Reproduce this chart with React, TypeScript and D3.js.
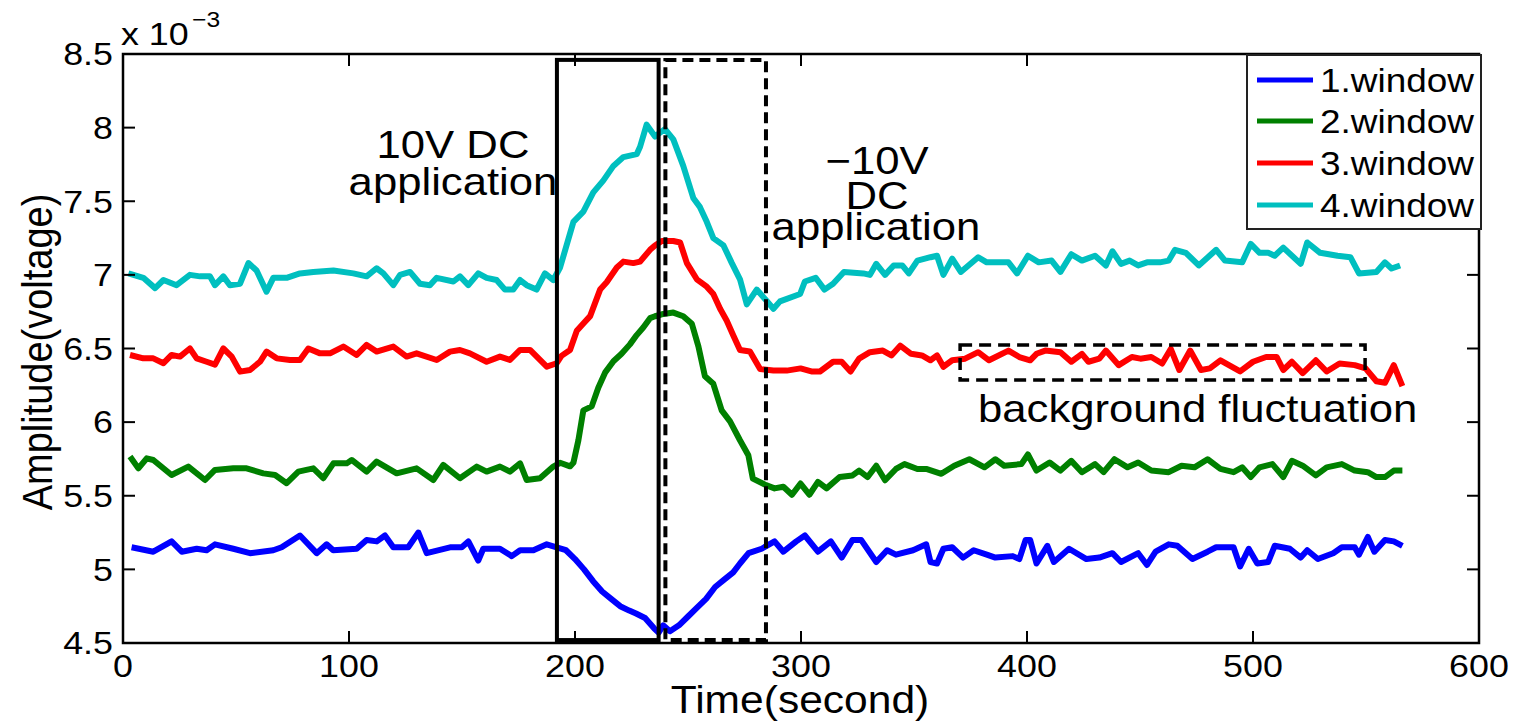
import React from 'react';
import * as d3 from 'd3';

type Pt = [number, number];

const TIME_TICKS = [0, 100, 200, 300, 400, 500, 600];
const AMP_TICKS = [4.5, 5, 5.5, 6, 6.5, 7, 7.5, 8, 8.5];
const SERIES_NAMES = ['1.window', '2.window', '3.window', '4.window'];
const SERIES_COLORS = ['#0000ff', '#008000', '#ff0000', '#00bfbf'];

const window1: Pt[] = [
  [3.8,5.15],[13.4,5.12],[21.5,5.19],[26,5.12],[32.6,5.14],[37,5.13],[40.7,5.17],[48.8,5.14],[56.2,5.11],[66.5,5.13],[70.2,5.15],[78.3,5.23],[85.7,5.11],[90.1,5.17],[93,5.13],[103.4,5.14],[107.8,5.2],[112.3,5.19],[115.9,5.23],[119.6,5.15],[126.2,5.15],[130.7,5.25],[134.4,5.11],[144.7,5.15],[149.9,5.15],[152.8,5.19],[157.2,5.06],[159.4,5.14],[166.8,5.14],[172,5.09],[175.7,5.13],[181.6,5.13],[187.5,5.17],[191.9,5.15],
  [196,5.13],[200,5.07],[204,5.0],[208,4.92],[212,4.85],[216,4.8],[220,4.75],[224,4.72],[227,4.7],[231,4.67],[235,4.6],[237,4.57],[239,4.62],[242,4.58],[246,4.62],[250,4.68],[254,4.74],[258,4.8],[262,4.88],[266,4.93],[270,4.98],[273,5.04],
  [276.8,5.11],[282.6,5.14],[288.3,5.19],[292.2,5.12],[297.9,5.19],[301.7,5.23],[307.5,5.12],[313.2,5.19],[318,5.08],[322.8,5.2],[326.6,5.2],[333.3,5.05],[338.1,5.13],[342,5.1],[349.6,5.13],[355.4,5.17],[357.3,5.05],[360.2,5.04],[363,5.14],[366.9,5.15],[371.7,5.08],[376.4,5.13],[382.2,5.1],[386,5.08],[393.7,5.09],[396.6,5.07],[399.4,5.2],[401.4,5.2],[404.2,5.04],[409,5.16],[411.9,5.05],[418.6,5.14],[426.3,5.07],[432,5.08],[437.8,5.11],[441.6,5.05],[449.2,5.11],[453.1,5.03],[456.9,5.12],[462.7,5.17],[466.5,5.16],[473.2,5.07],[479.9,5.12],[483.7,5.15],[491.4,5.15],[494.3,5.02],[498.1,5.14],[501.9,5.04],[506.7,5.05],[509.6,5.16],[516.3,5.14],[521.1,5.08],[524,5.13],[528.7,5.07],[535.5,5.11],[539.3,5.15],[545,5.15],[546.9,5.1],[550.8,5.22],[553.7,5.12],[558.4,5.2],[562.3,5.19],[566.1,5.16]
];

const window2: Pt[] = [
  [3.1,5.766],[6.8,5.686],[10.5,5.754],[13.4,5.743],[21.5,5.641],[28.9,5.698],[36.3,5.607],[40.7,5.675],[48.8,5.686],[54.7,5.686],[62.1,5.652],[67.3,5.641],[72.4,5.585],[77.6,5.664],[84.2,5.686],[88.6,5.619],[93.1,5.72],[99,5.72],[101.2,5.743],[107.8,5.664],[112.2,5.732],[121.1,5.652],[129.9,5.686],[137.3,5.607],[141.7,5.709],[149.1,5.619],[156.5,5.698],[160.9,5.664],[166.8,5.698],[171.2,5.664],[175.7,5.72],[178.6,5.607],[184.5,5.619],[190.4,5.698],
  [193.4,5.724],[197.8,5.7],[199.3,5.724],[201.5,5.877],[203.7,6.08],[207.4,6.107],[210.3,6.234],[213.3,6.336],[217,6.413],[220.6,6.464],[224.3,6.528],[227.3,6.591],[230.2,6.642],[233.2,6.706],[235.4,6.719],[238.4,6.732],[243.5,6.744],[247.9,6.719],[251.7,6.668],[254.6,6.515],[257.5,6.311],[261.2,6.26],[264.9,6.08],[268.6,6.005],[273,5.877],[276.7,5.775],
  [278.7,5.616],[284.5,5.572],[288.3,5.55],[292.2,5.561],[296,5.507],[299.8,5.583],[303.7,5.507],[307.5,5.594],[311.3,5.55],[317.1,5.627],[322.8,5.638],[325.7,5.671],[329.5,5.627],[333.3,5.704],[337.2,5.605],[342,5.682],[345.8,5.715],[351.5,5.682],[355.4,5.682],[362.1,5.649],[367.8,5.704],[374.5,5.748],[381.2,5.693],[386,5.748],[389.9,5.704],[397.5,5.715],[400.4,5.78],[404.2,5.671],[410,5.726],[414.8,5.671],[419.6,5.737],[424.3,5.66],[430.1,5.715],[433.9,5.66],[438.7,5.748],[444.5,5.693],[449.2,5.726],[455,5.671],[462.7,5.66],[468.4,5.704],[474.1,5.693],[479.9,5.748],[485.6,5.682],[491.4,5.66],[495.2,5.693],[499,5.627],[502.9,5.693],[508.6,5.715],[513.4,5.627],[517.2,5.737],[522,5.704],[527.8,5.638],[532.6,5.693],[539.3,5.715],[545,5.671],[550.8,5.66],[554.6,5.627],[558.4,5.627],[562.3,5.671],[566.1,5.671]
];

const window3: Pt[] = [
  [3.1,6.456],[9,6.433],[13.4,6.433],[17.9,6.4],[21.5,6.456],[25.2,6.445],[29.6,6.5],[32.6,6.433],[37,6.41],[40.7,6.39],[44.4,6.5],[48.1,6.445],[51.8,6.343],[56.2,6.354],[60.6,6.41],[63.5,6.479],[68,6.433],[73.9,6.422],[78.3,6.422],[82,6.5],[87.2,6.467],[91.6,6.467],[97.5,6.513],[103.4,6.456],[107.8,6.524],[112.2,6.479],[119.6,6.513],[125.5,6.445],[129.9,6.467],[138.8,6.422],[144.7,6.479],[149.1,6.49],[153.5,6.467],[160.9,6.41],[166.8,6.445],[171.2,6.422],[175.7,6.49],[180.1,6.49],[187.5,6.377],[191.9,6.4],
  [194,6.45],[197.8,6.49],[200.8,6.62],[203.7,6.67],[206.7,6.72],[211.1,6.9],[214,6.95],[218.5,7.05],[221.4,7.09],[225.8,7.08],[228.8,7.09],[233.2,7.17],[235.4,7.2],[238.4,7.23],[243.5,7.23],[246.5,7.22],[249.5,7.08],[253.9,6.97],[258.3,6.92],[261.2,6.87],[264.2,6.77],[267.1,6.69],[270,6.59],[273,6.49],[277.4,6.48],[281.9,6.36],[287.8,6.35],[293.7,6.35],
  [299.8,6.365],[304.6,6.344],[308.4,6.344],[314.2,6.41],[318,6.41],[321.9,6.344],[325.7,6.431],[330.5,6.475],[336.2,6.486],[340,6.453],[343.9,6.519],[348.7,6.464],[353.5,6.453],[357.3,6.42],[360.2,6.453],[363,6.376],[366.9,6.42],[372.6,6.431],[378.4,6.475],[383.2,6.42],[391.8,6.486],[396.6,6.442],[401.4,6.42],[404.2,6.464],[408.1,6.486],[414.8,6.475],[419.6,6.41],[424.3,6.464],[427.2,6.41],[432,6.431],[434.9,6.486],[440.6,6.387],[446.4,6.442],[450.2,6.431],[455,6.442],[459.8,6.398],[463.6,6.497],[467.4,6.354],[472.2,6.486],[477,6.354],[480.9,6.365],[485.6,6.42],[494.3,6.344],[500,6.41],[505.8,6.442],[510.5,6.442],[513.4,6.354],[517.2,6.41],[522,6.333],[527.8,6.42],[532.6,6.344],[538.3,6.398],[545,6.387],[549.8,6.365],[554.6,6.278],[558.4,6.267],[562.3,6.387],[566.1,6.245]
];

const window4: Pt[] = [
  [2.4,7.01],[9,6.98],[14.2,6.91],[17.9,6.965],[23.7,6.93],[29.6,7.0],[34.1,6.99],[38.5,6.99],[40.7,6.93],[44.4,6.99],[47.3,6.93],[51.8,6.94],[55.5,7.08],[59.1,7.03],[63.5,6.886],[66.5,6.98],[72.4,6.98],[78.3,7.01],[84.2,7.02],[93.1,7.03],[101.9,7.01],[107.8,6.99],[112.2,7.045],[115.2,7.01],[119.6,6.93],[122.6,7.0],[127,7.02],[131.4,6.94],[135.8,6.93],[138.8,6.98],[146.2,6.955],[149.1,6.99],[152.8,6.93],[157.2,7.01],[160.9,6.98],[165.3,6.965],[169,6.9],[172.7,6.9],[175.7,6.965],[178.6,6.93],[183,6.9],[186.7,7.01],[190.4,6.965],
  [193.4,7.05],[199.3,7.36],[203.7,7.43],[208.1,7.56],[212.5,7.64],[217,7.74],[221.4,7.8],[227.3,7.82],[228.8,7.87],[231.7,8.02],[235.4,7.94],[239.8,7.99],[243.5,7.92],[247.9,7.74],[252.4,7.52],[255.3,7.46],[258.3,7.36],[261.2,7.25],[265.7,7.2],[269.4,7.08],[273,6.97],[276,6.8],[280.4,6.9],[283.3,6.85],[287.8,6.77],[290.7,6.82],[299.6,6.87],
  [301.7,6.955],[306.5,6.98],[310.4,6.9],[314.2,6.94],[319,7.02],[327.6,7.01],[330.5,7.0],[333.3,7.075],[337.2,7.0],[341,7.064],[344.8,7.064],[347.7,7.01],[351.5,7.097],[357.3,7.12],[360.2,7.13],[363,7.0],[366.9,7.11],[370.7,7.02],[378.4,7.12],[382.2,7.085],[391.8,7.085],[395.6,7.01],[400.4,7.13],[405.2,7.085],[410.9,7.097],[414.8,7.02],[419.6,7.14],[424.3,7.097],[430.1,7.13],[434.9,7.064],[437.8,7.16],[441.6,7.075],[445.4,7.097],[449.2,7.064],[453.1,7.085],[458.8,7.085],[462.7,7.097],[465.5,7.17],[470.3,7.15],[476,7.064],[483.7,7.17],[487.6,7.097],[495.2,7.085],[499,7.21],[502.9,7.15],[506.7,7.15],[509.6,7.13],[513.4,7.185],[521.1,7.075],[524,7.22],[529.7,7.15],[537.4,7.13],[543.1,7.12],[546.9,7.01],[554.6,7.02],[558.4,7.085],[561.3,7.043],[565.1,7.064]
];

// annotation boxes in data units: [t0, t1, v0, v1]
const POS_DC_BOX = [192, 237, 4.52, 8.46];
const NEG_DC_BOX = [240, 284.5, 4.52, 8.46];
const BG_BOX = [370.4, 549.6, 6.286, 6.524];

const FONT = "'Liberation Sans', Arial, Helvetica, sans-serif";
const SX = 1.12;

function Txt(props: { x: number; y: number; size: number; anchor?: string; rotate?: boolean; baseline?: string; children: React.ReactNode }) {
  const { x, y, size, anchor = 'start', rotate = false, baseline, children } = props;
  const tf = `translate(${x},${y}) scale(${SX},1)` + (rotate ? ' rotate(-90)' : '');
  return (
    <text transform={tf} fontSize={size} textAnchor={anchor} dominantBaseline={baseline} fontFamily={FONT} fill="#000">
      {children}
    </text>
  );
}

export default function App() {
  const W = 1515, H = 721;
  const L = 123, R = 1479, TOP = 54, B = 643;
  const x = d3.scaleLinear().domain([0, 600]).range([L, R]);
  const y = d3.scaleLinear().domain([4.5, 8.5]).range([B, TOP]);
  const line = d3.line<Pt>().x(d => x(d[0])).y(d => y(d[1]));
  const series = [window1, window2, window3, window4];
  const tickLen = 12;

  const rectOf = (b: number[]) => ({ x: x(b[0]), y: y(b[3]), w: x(b[1]) - x(b[0]), h: y(b[2]) - y(b[3]) });
  const pos = rectOf(POS_DC_BOX), neg = rectOf(NEG_DC_BOX), bg = rectOf(BG_BOX);

  const legX = 1247, legY = 55, legW = 234, legH = 174;
  const legRows = [80, 121, 163, 205];

  return (
    <svg width={W} height={H} style={{ position: 'absolute', left: 0, top: 0, background: '#fff' }}>
      <rect x={0} y={0} width={W} height={H} fill="#fff" />
      {series.map((s, i) => (
        <path key={i} d={line(s) || ''} fill="none" stroke={SERIES_COLORS[i]} strokeWidth={6} strokeLinejoin="round" />
      ))}
      <rect x={pos.x} y={pos.y} width={pos.w} height={pos.h} fill="none" stroke="#000" strokeWidth={4} />
      <rect x={neg.x} y={neg.y} width={neg.w} height={neg.h} fill="none" stroke="#000" strokeWidth={4} strokeDasharray="11 6" />
      <rect x={bg.x} y={bg.y} width={bg.w} height={bg.h} fill="none" stroke="#000" strokeWidth={3.5} strokeDasharray="12 7" />

      {/* axes box */}
      <rect x={L} y={TOP} width={R - L} height={B - TOP} fill="none" stroke="#000" strokeWidth={2.5} />
      {TIME_TICKS.map(t => (
        <g key={'xt' + t}>
          <line x1={x(t)} x2={x(t)} y1={B} y2={B - tickLen} stroke="#000" strokeWidth={2} />
          <line x1={x(t)} x2={x(t)} y1={TOP} y2={TOP + tickLen} stroke="#000" strokeWidth={2} />
          <Txt x={x(t)} y={677} size={32} anchor="middle">{String(t)}</Txt>
        </g>
      ))}
      {AMP_TICKS.map(v => (
        <g key={'yt' + v}>
          <line x1={L} x2={L + tickLen} y1={y(v)} y2={y(v)} stroke="#000" strokeWidth={2} />
          <line x1={R} x2={R - tickLen} y1={y(v)} y2={y(v)} stroke="#000" strokeWidth={2} />
          <Txt x={113} y={y(v)} size={32} anchor="end" baseline="central">{String(v)}</Txt>
        </g>
      ))}
      <Txt x={121} y={45} size={32}>x 10</Txt>
      <Txt x={192} y={27} size={22}>−3</Txt>

      <Txt x={52} y={352} size={38} anchor="middle" rotate>Amplitude(voltage)</Txt>
      <Txt x={800} y={713} size={38} anchor="middle">Time(second)</Txt>

      <Txt x={453} y={158} size={39} anchor="middle">10V DC</Txt>
      <Txt x={453} y={195} size={39} anchor="middle">application</Txt>
      <Txt x={877} y={174} size={39} anchor="middle">−10V</Txt>
      <Txt x={877} y={209} size={39} anchor="middle">DC</Txt>
      <Txt x={876} y={240} size={39} anchor="middle">application</Txt>
      <Txt x={978} y={422} size={39}>background fluctuation</Txt>

      {/* legend */}
      <rect x={legX} y={legY} width={legW} height={legH} fill="#fff" stroke="#222" strokeWidth={2} />
      {SERIES_NAMES.map((n, i) => (
        <g key={n}>
          <line x1={1257} x2={1313} y1={legRows[i]} y2={legRows[i]} stroke={SERIES_COLORS[i]} strokeWidth={5} />
          <Txt x={1320} y={legRows[i]} size={33} baseline="central">{n}</Txt>
        </g>
      ))}
    </svg>
  );
}
